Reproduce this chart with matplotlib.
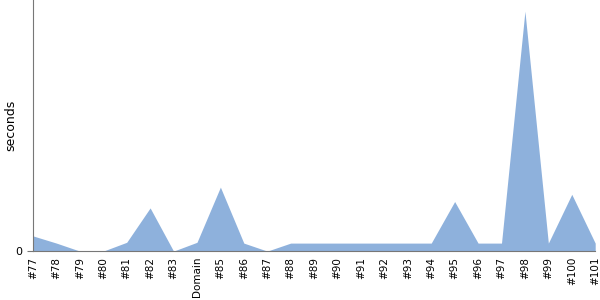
import matplotlib
matplotlib.use("Agg")
import matplotlib.pyplot as plt
import numpy as np

labels = ["#77", "#78", "#79", "#80", "#81", "#82", "#83", "Domain", "#85", "#86",
          "#87", "#88", "#89", "#90", "#91", "#92", "#93", "#94", "#95", "#96",
          "#97", "#98", "#99", "#100", "#101"]
seconds = [1.9, 1.0, 0, 0, 1.1, 5.4, 0, 1.1, 8.0, 1.0,
           0, 1.0, 1.0, 1.0, 1.0, 1.0, 1.0, 1.0, 6.2, 1.0,
           1.0, 30.0, 1.0, 7.1, 1.0]

fig = plt.figure(figsize=(6, 3), dpi=100)
ax = fig.add_axes([0.055, 0.163, 0.937, 0.837])
x = np.arange(len(labels))
ax.fill_between(x, seconds, 0, color="#8eb1dc", linewidth=0)
ax.set_xlim(0, len(labels) - 1)
ax.set_ylim(0, 31.4)
ax.set_xticks(x)
ax.set_xticklabels(labels, rotation=90, fontsize=7.5)
ax.set_yticks([0])
ax.set_yticklabels(["0"], fontsize=8)
ax.tick_params(axis="x", length=0, pad=4)
ax.tick_params(axis="y", length=4, color="#777777")
fig.text(10.5 / 600, 1 - 125 / 300, "seconds", rotation=90, fontsize=9,
         ha="center", va="center")
for s in ["top", "right"]:
    ax.spines[s].set_visible(False)
for s in ["left", "bottom"]:
    ax.spines[s].set_color("#777777")
fig.savefig("out.png", dpi=100)
